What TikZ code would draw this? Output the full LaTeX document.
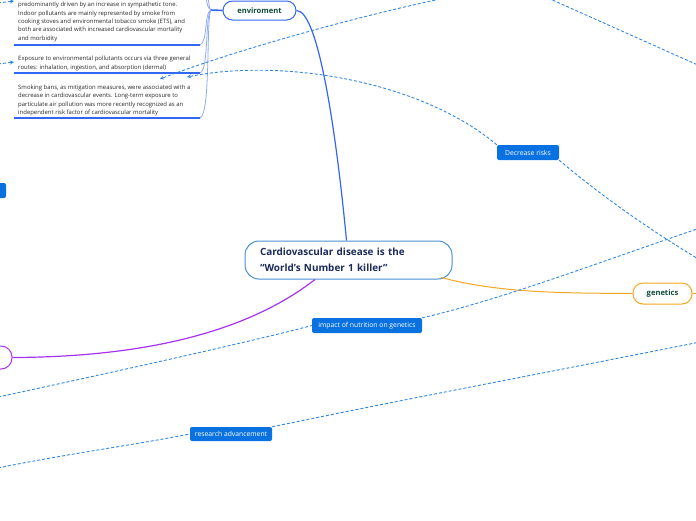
\documentclass[tikz,border=0pt]{standalone}
\usepackage{fontspec}
\setmainfont{Open Sans}
\usetikzlibrary{arrows.meta}
\definecolor{cborder}{HTML}{4A90D0}
\definecolor{navy}{HTML}{1B2A5A}
\definecolor{envblue}{HTML}{3366F2}
\definecolor{treeblue}{HTML}{8FA9F8}
\definecolor{dgreen}{HTML}{0D4A3A}
\definecolor{orng}{HTML}{F5A623}
\definecolor{purp}{HTML}{A633F0}
\definecolor{dashc}{HTML}{2F86E6}
\definecolor{bfill}{HTML}{0A72E0}
\tikzset{
  pill/.style={draw, fill=white, line width=1pt, inner sep=0pt, font=\fontsize{7.6}{9}\selectfont\bfseries, text=dgreen},
  bluebox/.style={fill=bfill, rounded corners=2pt, inner sep=0pt, text=white, font=\fontsize{6.8}{8}\selectfont},
  note/.style={anchor=north west, inner sep=0pt, align=left, font=\fontsize{5.95}{8.4}\selectfont, text=black!85},
  uline/.style={envblue, line width=1.4pt},
  tree/.style={treeblue, line width=0.8pt},
  dline/.style={dashc, line width=0.9pt, dash pattern=on 3pt off 2pt},
  darrow/.style={dline, -{Stealth[length=4pt,width=4pt,open]}}
}
\begin{document}
\begin{tikzpicture}[x=1pt,y=-1pt]
\useasboundingbox (0,0) rectangle (696,520);
\clip (0,0) rectangle (696,520);

% coordinates
\coordinate (t1) at (14,45);
\coordinate (t1e) at (200,45);
\coordinate (t2) at (14,73);
\coordinate (t2e) at (200,73);
\coordinate (t3) at (14,118);
\coordinate (t3e) at (200,118);
\coordinate (hub) at (211,10);
\coordinate (up1) at (203,-20);
\coordinate (up2) at (203,-60);
\coordinate (a1) at (160,79);
\coordinate (a2) at (187,77);
\coordinate (topA) at (445,-2);
\coordinate (topB) at (548,-2);
\coordinate (rB) at (700,66);
\coordinate (rC) at (700,260);
\coordinate (lD) at (-2,397);
\coordinate (rD) at (700,228);
\coordinate (lE) at (-2,468);
\coordinate (rE) at (700,342);
\coordinate (tlS) at (-2,3);
\coordinate (tlE) at (14,1);
\coordinate (mlS) at (-2,64);
\coordinate (mlE) at (14,62);
\coordinate (orR) at (700,293);

% nodes
\node[pill, draw=cborder, rounded corners=14pt, minimum height=38pt, text width=177pt, inner xsep=15pt, align=left, font=\fontsize{9.9}{16}\selectfont\bfseries, text=navy] (central) at (348.5,260) {Cardiovascular disease is the\\“World’s Number 1 killer”};
\node[pill, draw=envblue, rounded corners=9.5pt, minimum width=73pt, minimum height=19pt] (env) at (259.5,10.5) {enviroment};
\node[pill, draw=orng, rounded corners=10pt, minimum width=59pt, minimum height=21pt] (gen) at (662.5,293.5) {genetics};
\node[draw=purp, fill=white, line width=1pt, rounded corners=11pt, minimum width=70pt, minimum height=23pt, inner sep=0pt] (purpnode) at (-23,357.5) {};
\node[bluebox, minimum width=14pt, minimum height=15pt] (leftblue) at (-1,190.5) {};
\node[bluebox, minimum width=62pt, minimum height=15pt] (dec) at (528,152.5) {Decrease risks};
\node[bluebox, minimum width=110pt, minimum height=15pt] (imp) at (367,325.5) {impact of nutrition on genetics};
\node[bluebox, minimum width=82pt, minimum height=14pt] (res) at (231,434) {research advancement};

\node[note] (n1) at (18,2) {predominantly driven by an increase in sympathetic tone.\\Indoor pollutants are mainly represented by smoke from\\cooking stoves and environmental tobacco smoke (ETS), and\\both are associated with increased cardiovascular mortality\\and morbidity};
\node[note] (n2) at (18,56) {Exposure to environmental pollutants occurs via three general\\routes: inhalation, ingestion, and absorption (dermal)};
\node[note] (n3) at (18,84.5) {Smoking bans, as mitigation measures, were associated with a\\decrease in cardiovascular events. Long-term exposure to\\particulate air pollution was more recently recognized as an\\independent risk factor of cardiovascular mortality};

% underlines
\draw[uline] (t1) -- (t1e);
\draw[uline] (t2) -- (t2e);
\draw[uline] (t3) -- (t3e);

% tree
\draw[envblue, line width=1.6pt] (env.west) -- (hub);
\draw[tree] (hub) .. controls (204,12) and (208,42) .. (t1e);
\draw[tree] (hub) .. controls (205,14) and (209,70) .. (t2e);
\draw[tree] (hub) .. controls (206,16) and (211,114) .. (t3e);
\draw[tree] (hub) .. controls (205,8) and (207,-10) .. (up1);
\draw[tree] (hub) .. controls (206,6) and (209,-40) .. (up2);

% main branches
\draw[envblue, line width=1.2pt] (central.north) ++(-2,0) coordinate (cn) .. controls (336,130) and (318,10) .. (env.east);
\draw[purp, line width=1.2pt] (315,279.5) .. controls (250,330) and (150,357) .. (purpnode.east);
\draw[orng, line width=1pt] (441,277.5) .. controls (500,293) and (560,293) .. (gen.west);
\draw[orng, line width=1pt] (gen.east) -- (orR);

% dashed connectors
\draw[darrow] (topA) .. controls (350,18) and (230,52) .. (a1);
\draw[darrow] (dec.north west) .. controls (420,80) and (280,58) .. (a2);
\draw[dline] (topB) -- (rB);
\draw[dline] (dec.south east) .. controls (600,195) and (650,230) .. (rC);
\draw[dline] (lD) .. controls (100,375) and (250,342) .. (imp.west);
\draw[dline] (imp.north east) .. controls (500,300) and (600,262) .. (rD);
\draw[dline] (lE) .. controls (60,455) and (140,444) .. (res.west);
\draw[dline] (res.north east) .. controls (400,400) and (560,370) .. (rE);
\draw[darrow] (tlS) -- (tlE);
\draw[darrow] (mlS) -- (mlE);
\end{tikzpicture}
\end{document}
